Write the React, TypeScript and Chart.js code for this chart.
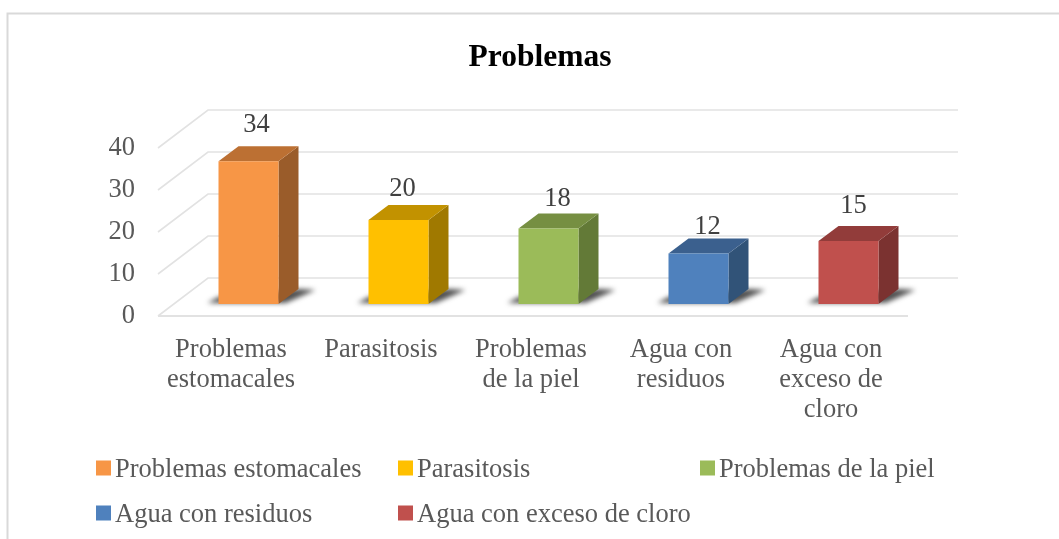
import { useEffect, useRef } from "react";
import { Chart, registerables } from "chart.js";

Chart.register(...registerables);

const categories = [
  ["Problemas", "estomacales"],
  ["Parasitosis"],
  ["Problemas", "de la piel"],
  ["Agua con", "residuos"],
  ["Agua con", "exceso de", "cloro"],
];
const legendNames = [
  "Problemas estomacales",
  "Parasitosis",
  "Problemas de la piel",
  "Agua con residuos",
  "Agua con exceso de cloro",
];
const values = [34, 20, 18, 12, 15];
const faceColors = ["#F79646", "#FFC000", "#9BBB59", "#4F81BD", "#C0504D"];
const topColors = ["#BC7033", "#C29200", "#768F42", "#3B608E", "#923C3A"];
const sideColors = ["#9A5C2A", "#A07900", "#637A37", "#315378", "#7B3230"];

const FONT = '"Liberation Serif", "Times New Roman", serif';
const GRID = "#e2e2e2";
const WALL_DX = 50;
const WALL_DY = -38;
const BAR_SHIFT_X = 17.5;
const BAR_SHIFT_Y = -12;
const BAR_DX = 20;
const BAR_DY = -15;
const FLOOR_SHIFT = 2;
const labelNudgeX = [8, 4, 9, 9, 5];
const labelLift = [21, 16, 14, 12, 20];
const legendCols = [96, 398, 700];
const legendRows = [468, 513];
const LEGEND_TEXT_DROP = 2;

const scene = {
  id: "scene",
  afterLayout(chart: any) {
    chart.titleBlock.left = 21;
    chart.titleBlock.right = 1059;
  },
  beforeDatasetsDraw(chart: any) {
    const { ctx, scales } = chart;
    const y = scales.y;
    const left = chart.chartArea.left + FLOOR_SHIFT;
    const right = chart.chartArea.right + FLOOR_SHIFT;
    ctx.save();
    // frame
    ctx.strokeStyle = "#d9d9d9";
    ctx.lineWidth = 2;
    ctx.beginPath();
    ctx.moveTo(7.5, 539);
    ctx.lineTo(7.5, 13.5);
    ctx.lineTo(1059, 13.5);
    ctx.stroke();
    // walls
    ctx.strokeStyle = GRID;
    ctx.lineWidth = 1.6;
    y.ticks.forEach((t: any) => {
      const py = y.getPixelForValue(t.value);
      ctx.beginPath();
      ctx.moveTo(left, py);
      ctx.lineTo(left + WALL_DX, py + WALL_DY);
      ctx.lineTo(right + WALL_DX, py + WALL_DY);
      ctx.stroke();
    });
    const py0 = y.getPixelForValue(0);
    ctx.lineWidth = 2;
    ctx.beginPath();
    ctx.moveTo(left, py0);
    ctx.lineTo(right, py0);
    ctx.stroke();
    // floor shadows
    const meta = chart.getDatasetMeta(0);
    ctx.fillStyle = "#505050";
    ctx.filter = "blur(2.5px)";
    meta.data.forEach((bar: any) => {
      const x0 = bar.x - bar.width / 2 + BAR_SHIFT_X;
      const x1 = bar.x + bar.width / 2 + BAR_SHIFT_X;
      const b = bar.base + BAR_SHIFT_Y;
      ctx.beginPath();
      ctx.moveTo(x0 - 11, b - 1);
      ctx.lineTo(x0, b - 7);
      ctx.lineTo(x1 + BAR_DX, b - 15);
      ctx.lineTo(x1 + BAR_DX + 17, b - 14);
      ctx.lineTo(x1 + 7, b - 1);
      ctx.closePath();
      ctx.fill();
    });
    ctx.filter = "none";
    // bar sides and tops
    meta.data.forEach((bar: any, i: number) => {
      const x0 = bar.x - bar.width / 2 + BAR_SHIFT_X;
      const x1 = bar.x + bar.width / 2 + BAR_SHIFT_X;
      const top = bar.y + BAR_SHIFT_Y;
      const b = bar.base + BAR_SHIFT_Y;
      ctx.fillStyle = sideColors[i];
      ctx.beginPath();
      ctx.moveTo(x1, top);
      ctx.lineTo(x1 + BAR_DX, top + BAR_DY);
      ctx.lineTo(x1 + BAR_DX, b + BAR_DY);
      ctx.lineTo(x1, b);
      ctx.closePath();
      ctx.fill();
      ctx.fillStyle = topColors[i];
      ctx.beginPath();
      ctx.moveTo(x0, top);
      ctx.lineTo(x0 + BAR_DX, top + BAR_DY);
      ctx.lineTo(x1 + BAR_DX, top + BAR_DY);
      ctx.lineTo(x1, top);
      ctx.closePath();
      ctx.fill();
    });
    ctx.restore();
    // front faces are drawn by Chart.js, moved onto the floor
    ctx.save();
    ctx.translate(BAR_SHIFT_X, BAR_SHIFT_Y);
  },
  afterDatasetsDraw(chart: any) {
    const { ctx } = chart;
    ctx.restore();
    const meta = chart.getDatasetMeta(0);
    ctx.save();
    ctx.font = `26.5px ${FONT}`;
    ctx.fillStyle = "#404040";
    ctx.textAlign = "center";
    ctx.textBaseline = "middle";
    meta.data.forEach((bar: any, i: number) => {
      ctx.fillText(
        String(values[i]),
        bar.x + BAR_SHIFT_X + labelNudgeX[i],
        bar.y + BAR_SHIFT_Y + BAR_DY - labelLift[i]
      );
    });
    // legend
    ctx.textAlign = "left";
    legendNames.forEach((name, i) => {
      const row = i < 3 ? 0 : 1;
      const col = i < 3 ? i : i - 3;
      const x = legendCols[col];
      const cy = legendRows[row];
      ctx.fillStyle = faceColors[i];
      ctx.fillRect(x, cy - 7.5, 15, 15);
      ctx.fillStyle = "#595959";
      ctx.fillText(name, x + 19, cy + LEGEND_TEXT_DROP);
    });
    ctx.restore();
  },
};

export default function App() {
  const ref = useRef<HTMLCanvasElement | null>(null);
  useEffect(() => {
    if (!ref.current) return;
    const chart = new Chart(ref.current, {
      type: "bar",
      data: {
        labels: categories as any,
        datasets: [
          {
            data: values,
            backgroundColor: faceColors,
            borderWidth: 0,
            barPercentage: 0.4,
            categoryPercentage: 1,
            clip: false as any,
          },
        ],
      },
      plugins: [scene],
      options: {
        animation: false,
        responsive: false,
        layout: { padding: { left: 21, right: 153, top: 0, bottom: 0 } },
        plugins: {
          legend: { display: false },
          tooltip: { enabled: false },
          title: {
            display: true,
            text: "Problemas",
            color: "#000000",
            font: { family: FONT, size: 31.5, weight: "bold", lineHeight: 1.2 },
            padding: { top: 39, bottom: 71.2 },
          },
        },
        scales: {
          x: {
            grid: { display: false },
            border: { display: false },
            ticks: {
              color: "#595959",
              font: { family: FONT, size: 26.5, lineHeight: 1.135 },
              padding: 11,
              maxRotation: 0,
              autoSkip: false,
            },
            afterFit(s: any) {
              s.height = 223;
            },
          },
          y: {
            min: 0,
            max: 40,
            grid: { display: false, drawTicks: false },
            border: { display: false },
            ticks: {
              stepSize: 10,
              color: "#595959",
              font: { family: FONT, size: 26.5 },
              padding: 21,
            },
            afterFit(s: any) {
              s.width = 135;
            },
          },
        },
      } as any,
    });
    return () => chart.destroy();
  }, []);
  return (
    <div style={{ position: "fixed", left: 0, top: 0, width: 1059, height: 539, background: "#fff" }}>
      <canvas ref={ref} width={1059} height={539} style={{ display: "block", filter: "blur(0.5px)" }} />
    </div>
  );
}
